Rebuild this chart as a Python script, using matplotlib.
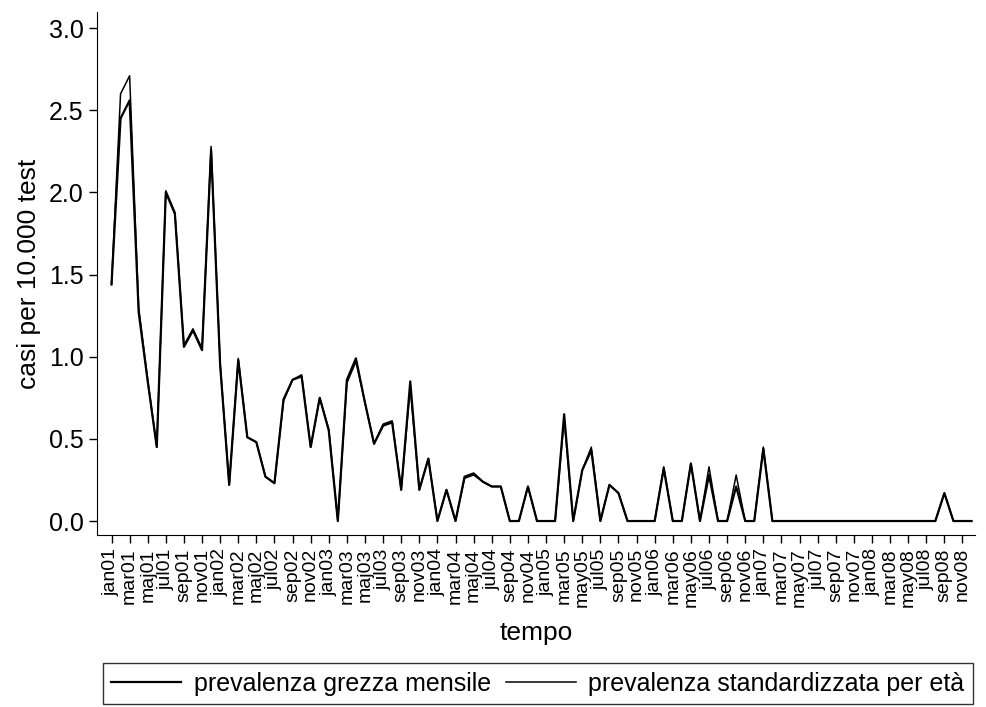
import numpy as np
import matplotlib.pyplot as plt

plt.rcParams['font.family'] = ['Liberation Sans', 'DejaVu Sans']

# monthly prevalence, jan01 .. dec08 (96 months)
raw = [1.44, 2.45, 2.56, 1.27, 0.85, 0.45, 2.00, 1.87, 1.06, 1.16, 1.04, 2.26,
       0.95, 0.22, 0.98, 0.51, 0.48, 0.27, 0.23, 0.74, 0.86, 0.88, 0.45, 0.75,
       0.55, 0.00, 0.86, 0.99, 0.72, 0.47, 0.58, 0.60, 0.19, 0.85, 0.19, 0.38,
       0.00, 0.19, 0.00, 0.27, 0.29, 0.24, 0.21, 0.21, 0.00, 0.00, 0.21, 0.00,
       0.00, 0.00, 0.65, 0.00, 0.31, 0.43, 0.00, 0.22, 0.17, 0.00, 0.00, 0.00,
       0.00, 0.32, 0.00, 0.00, 0.35, 0.00, 0.28, 0.00, 0.00, 0.21, 0.00, 0.00,
       0.44, 0.00, 0.00, 0.00, 0.00, 0.00, 0.00, 0.00, 0.00, 0.00, 0.00, 0.00,
       0.00, 0.00, 0.00, 0.00, 0.00, 0.00, 0.00, 0.00, 0.17, 0.00, 0.00, 0.00]

std = [1.44, 2.60, 2.71, 1.30, 0.86, 0.45, 2.01, 1.88, 1.07, 1.17, 1.05, 2.28,
       0.96, 0.22, 0.99, 0.51, 0.48, 0.27, 0.23, 0.73, 0.86, 0.89, 0.45, 0.75,
       0.56, 0.00, 0.84, 0.97, 0.72, 0.47, 0.59, 0.61, 0.19, 0.81, 0.19, 0.38,
       0.00, 0.19, 0.00, 0.26, 0.28, 0.24, 0.21, 0.21, 0.00, 0.00, 0.21, 0.00,
       0.00, 0.00, 0.62, 0.00, 0.31, 0.45, 0.00, 0.22, 0.17, 0.00, 0.00, 0.00,
       0.00, 0.33, 0.00, 0.00, 0.35, 0.00, 0.33, 0.00, 0.00, 0.28, 0.00, 0.00,
       0.45, 0.00, 0.00, 0.00, 0.00, 0.00, 0.00, 0.00, 0.00, 0.00, 0.00, 0.00,
       0.00, 0.00, 0.00, 0.00, 0.00, 0.00, 0.00, 0.00, 0.17, 0.00, 0.00, 0.00]

tick_labels = ['jan01', 'mar01', 'maj01', 'jul01', 'sep01', 'nov01',
               'jan02', 'mar02', 'maj02', 'jul02', 'sep02', 'nov02',
               'jan03', 'mar03', 'maj03', 'jul03', 'sep03', 'nov03',
               'jan04', 'mar04', 'maj04', 'jul04', 'sep04', 'nov04',
               'jan05', 'mar05', 'may05', 'jul05', 'sep05', 'nov05',
               'jan06', 'mar06', 'may06', 'jul06', 'sep06', 'nov06',
               'jan07', 'mar07', 'may07', 'jul07', 'sep07', 'nov07',
               'jan08', 'mar08', 'may08', 'jul08', 'sep08', 'nov08']

months = np.arange(len(raw))

fig = plt.figure(figsize=(9.87, 7.07), dpi=100)
ax = fig.add_axes([0.0983, 0.2433, 0.8897, 0.7397])

ax.plot(months, std, color='black', lw=1.1, label='prevalenza standardizzata per età')
ax.plot(months, raw, color='black', lw=1.6, label='prevalenza grezza mensile')

ax.set_xlim(-1.6, 95.4)
ax.set_ylim(-0.085, 3.098)
ax.set_yticks(np.arange(0, 3.01, 0.5))
ax.set_yticklabels(['%.1f' % v for v in np.arange(0, 3.01, 0.5)], fontsize=18)
ax.set_xticks(np.arange(0, 96, 2))
ax.set_xticklabels(tick_labels, rotation=90, fontsize=14)
ax.tick_params(length=6, width=1, color='black')

for s in ['top', 'right']:
    ax.spines[s].set_visible(False)

ax.set_xlabel('tempo', fontsize=19, labelpad=10)
ax.set_ylabel('casi per 10.000 test', fontsize=19, labelpad=6)

h, l = ax.get_legend_handles_labels()
leg = fig.legend(h[::-1], l[::-1], loc='center', ncol=2,
                 bbox_to_anchor=(0.545, 0.033), fontsize=18,
                 frameon=True, fancybox=False, edgecolor='black',
                 handlelength=2.8, columnspacing=0.6, handletextpad=0.5,
                 borderpad=0.35, borderaxespad=0)
leg.get_frame().set_linewidth(1.0)

fig.savefig('out.png', dpi=100)
